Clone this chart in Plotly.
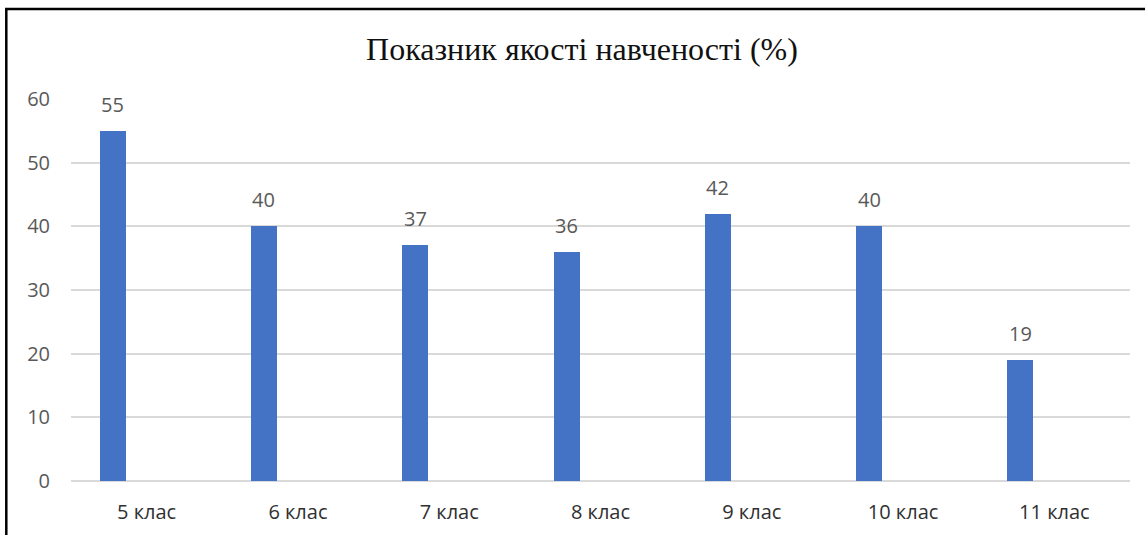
import plotly.graph_objects as go

categories = ["5 клас", "6 клас", "7 клас", "8 клас", "9 клас", "10 клас", "11 клас"]
values = [55, 40, 37, 36, 42, 40, 19]
y_ticks = [0, 10, 20, 30, 40, 50, 60]
title_text = "Показник якості навченості (%)"

BAR_COLOR = "#4472C4"

fig = go.Figure()
fig.add_trace(go.Bar(
    x=categories, y=values,
    width=0.172, offset=-0.31,
    marker=dict(color=BAR_COLOR, line=dict(width=0)),
    hoverinfo="x+y",
))

for c, v in zip(categories, values):
    fig.add_annotation(
        x=c, y=v, xref="x", yref="y",
        text=str(v), showarrow=False,
        xshift=-34, yshift=11, yanchor="bottom",
        font=dict(family="Open Sans", size=20, color="#595959"),
    )

W, H = 1145, 535
L, R, T, B = 71, 15, 99, 54
pw, ph = W - L - R, H - T - B

def px_to_paper_x(px):
    return (px - L) / pw

def px_to_paper_y(py):
    return (H - B - py) / ph

fig.add_shape(
    type="rect", xref="paper", yref="paper",
    x0=px_to_paper_x(6.3), x1=px_to_paper_x(1200),
    y0=px_to_paper_y(600), y1=px_to_paper_y(9),
    line=dict(color="#000000", width=2.5),
    fillcolor="rgba(0,0,0,0)", layer="above",
)

fig.update_layout(
    width=W, height=H,
    margin=dict(l=L, r=R, t=T, b=B, pad=0, autoexpand=False),
    paper_bgcolor="white", plot_bgcolor="white",
    showlegend=False,
    title=dict(
        text=title_text, x=582 / W, xref="container", xanchor="center",
        y=1 - 49 / H, yref="container", yanchor="middle",
        font=dict(family="Liberation Serif", size=32, color="#111111"),
    ),
    xaxis=dict(
        type="category", range=[-0.5, 6.5], automargin=False,
        showgrid=False, showline=False, zeroline=False,
        ticks="", ticklabelstandoff=17,
        tickfont=dict(family="Open Sans", size=20, color="#303030"),
    ),
    yaxis=dict(
        range=[0, 60], tickvals=y_ticks, automargin=False,
        showgrid=True, gridcolor="#D9D9D9", gridwidth=1.5,
        zeroline=True, zerolinecolor="#D9D9D9", zerolinewidth=1.5,
        showline=False, ticks="", ticklabelstandoff=20,
        tickfont=dict(family="Open Sans", size=20, color="#595959"),
    ),
    bargap=0,
)

fig.write_html(
    "out.html",
    config={"displayModeBar": False},
    post_script="document.body.style.margin='0';document.body.style.overflow='hidden';",
)
